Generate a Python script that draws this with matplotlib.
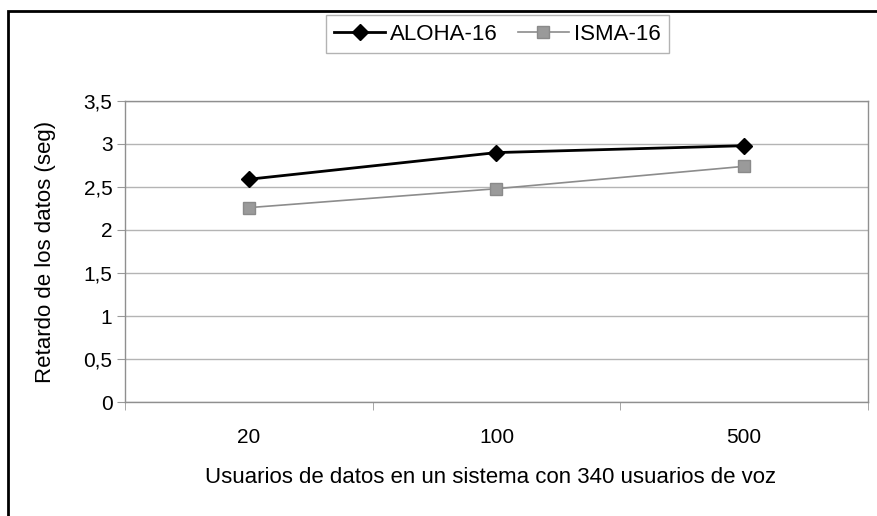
import numpy as np
import matplotlib.pyplot as plt
from matplotlib.patches import Rectangle

plt.rcParams["font.family"] = ["Liberation Sans", "DejaVu Sans"]

usuarios = ["20", "100", "500"]
aloha16 = [2.59, 2.90, 2.98]
isma16 = [2.26, 2.48, 2.74]
yticks = [0, 0.5, 1, 1.5, 2, 2.5, 3, 3.5]
ylabels = ["0", "0,5", "1", "1,5", "2", "2,5", "3", "3,5"]

fig = plt.figure(figsize=(8.77, 5.16), dpi=100)
ax = fig.add_axes([0.1425, 0.2209, 0.8472, 0.5834])

x = np.arange(len(usuarios))
ax.plot(x, aloha16, color="black", lw=2, marker="D", ms=8,
        mfc="black", mec="black", label="ALOHA-16", zorder=3)
ax.plot(x, isma16, color="#8c8c8c", lw=1.2, marker="s", ms=8,
        mfc="#9a9a9a", mec="#8a8a8a", label="ISMA-16", zorder=3)

ax.set_xlim(-0.5, len(usuarios) - 0.5)
ax.set_ylim(0, 3.5)
ax.set_yticks(yticks)
ax.set_yticklabels(ylabels)
ax.set_xticks(x)
ax.set_xticklabels(usuarios)
ax.set_xticks(np.arange(-0.5, len(usuarios)), minor=True)
ax.tick_params(axis="x", which="major", length=0, labelsize=15, pad=19)
ax.tick_params(axis="x", which="minor", length=6, color="#999999", direction="out")
ax.tick_params(axis="y", length=6, color="#999999", labelsize=15, pad=3)

ax.yaxis.grid(True, color="#b4b4b4", lw=1)
ax.set_axisbelow(True)
for side in ["top", "right", "bottom", "left"]:
    ax.spines[side].set_color("#8f8f8f")
    ax.spines[side].set_linewidth(1)

ax.set_ylabel("Retardo de los datos (seg)", fontsize=16, labelpad=20)
ax.set_xlabel("Usuarios de datos en un sistema con 340 usuarios de voz",
              fontsize=16, labelpad=15)
ax.xaxis.set_label_coords(0.492, -0.215)

leg = fig.legend(loc="center", bbox_to_anchor=(0.567, 0.934), ncol=2,
                 fontsize=16, frameon=True, fancybox=False,
                 handlelength=2.3, handletextpad=0.22, columnspacing=0.9,
                 borderpad=0.38)
leg.get_frame().set_edgecolor("#a0a0a0")
leg.get_frame().set_linewidth(1)

# chart border (top and left edges visible)
fig.patches.append(Rectangle((0.0095, -0.1), 1.2, 1.079, transform=fig.transFigure,
                             fill=False, ec="black", lw=2))

fig.savefig("out.png", dpi=100)
